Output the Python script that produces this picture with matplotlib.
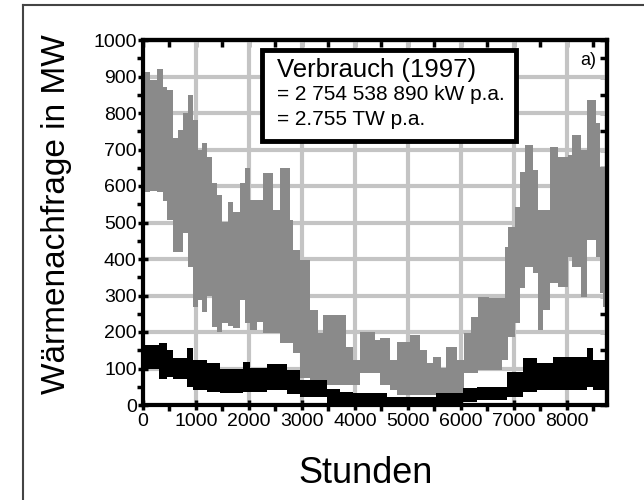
import matplotlib.pyplot as plt
import matplotlib.patches as patches
from matplotlib.lines import Line2D
from matplotlib.ticker import MultipleLocator

plt.rcParams['font.family'] = ['Liberation Sans', 'DejaVu Sans']

# Huellkurven der Stundenwerte (Stunde, oben, unten) in MW
# graue Kurve
h_grau = [0, 130, 260, 380, 450, 570, 660, 760, 855, 950, 1045, 1110, 1200,
          1296, 1390, 1485, 1610, 1700, 1830, 1925, 2020, 2145, 2260, 2450,
          2590, 2770, 2830, 2960, 3150, 3300, 3400, 3720, 3840, 3960, 4090,
          4380, 4470, 4660, 4790, 5040, 5230, 5360, 5470, 5630, 5730, 5920,
          6060, 6200, 6320, 6540, 6640, 6770, 6830, 6890, 7020, 7110, 7210,
          7360, 7450, 7550, 7680, 7830, 8020, 8100, 8270, 8380, 8550, 8620,
          8680, 8760]
grau_oben = [913, 890, 920, 870, 863, 731, 753, 800, 850, 781, 699, 717, 680,
             608, 575, 502, 557, 530, 607, 649, 562, 562, 635, 535,
             649, 507, 425, 397, 260, 197, 247, 247, 160, 123, 200,
             178, 183, 123, 173, 192, 151, 115, 132, 101, 160, 123,
             197, 240, 297, 293, 293, 293, 433, 488, 543, 639, 712,
             644, 534, 534, 707, 680, 685, 740, 699, 836, 772, 652,
             652, 652]
grau_unten = [584, 587, 584, 560, 507, 420, 420, 471, 379, 269, 288, 256, 300,
              215, 201, 224, 216, 210, 288, 224, 205, 228, 197, 197,
              170, 170, 142, 74, 68, 60, 55, 55, 55, 55, 87,
              87, 55, 40, 27, 27, 27, 27, 27, 33, 33, 33,
              87, 87, 96, 96, 96, 123, 123, 186, 224, 320, 379,
              362, 205, 260, 334, 323, 406, 379, 297, 452, 406, 307,
              269, 269]

# schwarze Kurve
h_schwarz = [0, 300, 450, 570, 830, 950, 1200, 1450, 1890, 2020, 2340, 2720,
             2960, 3470, 3720, 3960, 4600, 5540, 6040, 6300, 6870, 7170, 7430,
             7740, 8380, 8500, 8760]
schwarz_oben = [164, 170, 150, 128, 156, 123, 115, 100, 118, 101, 112, 95,
                68, 45, 36, 33, 22, 33, 47, 50, 90, 129, 115,
                132, 156, 123, 123]
schwarz_unten = [100, 72, 77, 70, 50, 41, 35, 33, 36, 36, 41, 30,
                 22, 5, 5, 5, 0, 3, 8, 14, 22, 36, 41,
                 41, 50, 41, 41]

fig = plt.figure(figsize=(6.44, 5.0), dpi=100)
ax = fig.add_axes([0.222, 0.19, 0.7205, 0.73])

ax.fill_between(h_grau, grau_unten, grau_oben, step='post',
                color='#8a8a8a', linewidth=0, zorder=2)
ax.fill_between(h_schwarz, schwarz_unten, schwarz_oben, step='post',
                color='black', linewidth=0, zorder=3)

ax.set_xlim(0, 8760)
ax.set_ylim(0, 1000)
ax.xaxis.set_major_locator(MultipleLocator(1000))
ax.xaxis.set_minor_locator(MultipleLocator(500))
ax.yaxis.set_major_locator(MultipleLocator(100))
ax.yaxis.set_minor_locator(MultipleLocator(50))
ax.grid(True, which='major', color='#c4c4c4', linewidth=3.0, zorder=0)
ax.set_axisbelow(True)

for s in ax.spines.values():
    s.set_linewidth(3.0)
    s.set_zorder(5)

ax.tick_params(axis='both', which='major', direction='inout', length=7,
               width=2.5, labelsize=14, pad=1)
ax.tick_params(axis='both', which='minor', direction='out', length=4,
               width=2.5)
ax.tick_params(axis='x', pad=2)

# Ticks oben und rechts nach innen
top = ax.secondary_xaxis('top')
top.xaxis.set_major_locator(MultipleLocator(1000))
top.xaxis.set_minor_locator(MultipleLocator(500))
top.tick_params(which='both', direction='in', length=5, width=2.5,
                labeltop=False)
top.spines['top'].set_linewidth(3.0)
right = ax.secondary_yaxis('right')
right.yaxis.set_major_locator(MultipleLocator(100))
right.yaxis.set_minor_locator(MultipleLocator(50))
right.tick_params(which='both', direction='in', length=5, width=2.5,
                  labelright=False)
right.spines['right'].set_linewidth(3.0)

# Textkasten
box = patches.Rectangle((0.2565, 0.723), 0.5475, 0.25, transform=ax.transAxes,
                        facecolor='white', edgecolor='black', linewidth=3.5,
                        zorder=6)
ax.add_patch(box)
ax.text(0.289, 0.899, 'Verbrauch (1997)', transform=ax.transAxes,
        fontsize=18.5, zorder=7)
ax.text(0.289, 0.836, '= 2 754 538 890 kW p.a.', transform=ax.transAxes,
        fontsize=15, zorder=7)
ax.text(0.289, 0.767, '= 2.755 TW p.a.', transform=ax.transAxes,
        fontsize=15, zorder=7)
ax.text(0.959, 0.945, 'a)', transform=ax.transAxes, fontsize=13,
        ha='center', va='center', zorder=7)

fig.text(0.0885, 0.572, 'Wärmenachfrage in MW', rotation=90,
         ha='center', va='center', fontsize=24)
fig.text(0.567, 0.034, 'Stunden', ha='center', va='baseline', fontsize=26)

# Rahmen um die Grafik
fig.add_artist(Line2D([23 / 644, 1], [0.99, 0.99], transform=fig.transFigure,
                      color='#444444', linewidth=1.5))
fig.add_artist(Line2D([23 / 644, 23 / 644], [0, 0.99], transform=fig.transFigure,
                      color='#444444', linewidth=1.5))

fig.savefig('out.png', dpi=100)
